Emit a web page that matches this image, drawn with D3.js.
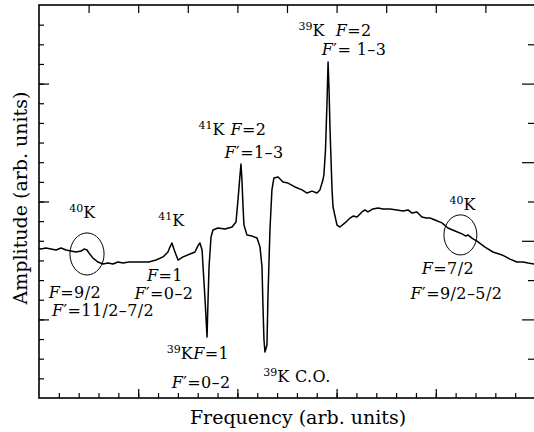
<!DOCTYPE html>
<html>
<head>
<meta charset="utf-8">
<script src="https://cdn.jsdelivr.net/npm/d3@7"></script>
<style>
  body { margin: 0; background: #fff; }
  svg { display: block; }
  text { fill: #000; white-space: pre; }
</style>
</head>
<body>
<svg id="chart" width="534" height="432"></svg>
<script>
// Saturated absorption spectrum of potassium -- frequency vs amplitude (arb. units)

var freq = [
  0, 0.10, 0.35, 0.60, 0.86, 1.11, 1.36, 1.61, 1.86, 2.12,
  2.27, 2.42, 2.52, 2.72, 2.97, 3.23, 3.48, 3.73, 3.98, 4.23,
  4.54, 4.89, 5.24, 5.54, 5.90, 6.25, 6.50, 6.60, 6.70, 6.80,
  6.91, 7.01, 7.26, 7.61, 7.86, 8.01, 8.11, 8.22, 8.27, 8.37,
  8.47, 8.52, 8.57, 8.67, 8.77, 9.02, 9.38, 9.73, 9.93, 10.03,
  10.11, 10.18, 10.23, 10.28, 10.33, 10.48, 10.74, 10.99, 11.14, 11.24,
  11.29, 11.34, 11.39, 11.49, 11.54, 11.64, 11.74, 11.84, 12.05, 12.30,
  12.55, 12.90, 13.26, 13.51, 13.76, 14.01, 14.16, 14.31, 14.36, 14.44,
  14.52, 14.57, 14.62, 14.67, 14.72, 14.77, 14.82, 15.02, 15.17, 15.42,
  15.68, 15.83, 16.03, 16.28, 16.43, 16.58, 16.83, 17.09, 17.34, 17.69,
  18.04, 18.35, 18.60, 18.80, 19.05, 19.30, 19.51, 19.71, 19.96, 20.31,
  20.61, 20.97, 21.32, 21.52, 21.62, 21.82, 22.13, 22.48, 22.88, 23.34,
  23.74, 24.09, 24.40, 24.65, 24.95
];

var amplitude = [
  7.63, 7.58, 7.63, 7.58, 7.53, 7.63, 7.53, 7.48, 7.43, 7.48,
  7.58, 7.53, 7.38, 7.12, 6.92, 6.82, 6.87, 6.82, 6.92, 6.87,
  6.92, 6.92, 6.92, 6.92, 7.02, 7.18, 7.43, 7.68, 7.89, 7.58,
  7.28, 7.02, 7.18, 7.33, 7.43, 7.74, 7.89, 7.53, 6.67, 4.99,
  3.10, 4.99, 6.67, 8.19, 8.55, 8.65, 8.60, 8.70, 8.96, 10.08,
  11.09, 11.91, 11.09, 9.82, 8.80, 8.30, 8.24, 8.14, 7.68, 6.67,
  4.63, 2.95, 2.34, 2.70, 5.14, 8.55, 10.59, 11.20, 11.25, 10.99,
  10.94, 10.74, 10.59, 10.43, 10.53, 10.43, 10.59, 11.09, 11.35, 12.62,
  15.17, 17.10, 15.67, 13.64, 12.11, 10.59, 9.72, 8.80, 8.70, 8.91,
  9.16, 9.26, 9.21, 9.47, 9.57, 9.47, 9.62, 9.67, 9.62, 9.62,
  9.57, 9.52, 9.57, 9.41, 9.47, 9.21, 9.16, 9.16, 9.06, 8.91,
  8.65, 8.50, 8.35, 8.24, 8.30, 8.14, 7.94, 7.68, 7.43, 7.28,
  7.07, 6.92, 6.92, 6.87, 6.82
];

// circled 40K features: centre and half-widths in data units
var rings = [
  { f: 2.42, a: 7.33, df: 0.86, da: 1.07 },
  { f: 21.24, a: 8.30, df: 0.83, da: 1.02 }
];

// annotations, centred on (f, a); parts: [text, style] with style "sup", "it" or ""
var notes = [
  { f: 2.19,  a: 9.16, parts: [["40", "sup"], ["K", ""]] },
  { f: 6.68,  a: 8.75, parts: [["41", "sup"], ["K", ""]] },
  { f: 6.35,  a: 5.95, parts: [["F", "it"], ["=1", ""]] },
  { f: 6.30,  a: 5.04, parts: [["F", "it"], ["\u2032=0\u20132", ""]] },
  { f: 1.81,  a: 5.09, parts: [["F", "it"], ["=9/2", ""]] },
  { f: 3.23,  a: 4.17, parts: [["F", "it"], ["\u2032=11/2\u20137/2", ""]] },
  { f: 8.01,  a: 1.98, parts: [["39", "sup"], ["K", ""], ["F", "it"], ["=1", ""]] },
  { f: 8.17,  a: 0.51, parts: [["F", "it"], ["\u2032=0\u20132", ""]] },
  { f: 13.00, a: 0.81, parts: [["39", "sup"], ["K C.O.", ""]] },
  { f: 9.75,  a: 13.38, parts: [["41", "sup"], ["K ", ""], ["F", "it"], ["=2", ""]] },
  { f: 10.84, a: 12.21, parts: [["F", "it"], ["\u2032=1\u20133", ""]] },
  { f: 14.92, a: 18.42, parts: [["39", "sup"], ["K  ", ""], ["F", "it"], ["=2", ""]] },
  { f: 15.88, a: 17.46, parts: [["F", "it"], ["\u2032= 1\u20133", ""]] },
  { f: 21.35, a: 9.57, parts: [["40", "sup"], ["K", ""]] },
  { f: 20.61, a: 6.31, parts: [["F", "it"], ["=7/2", ""]] },
  { f: 21.04, a: 5.04, parts: [["F", "it"], ["\u2032=9/2\u20135/2", ""]] }
];

var xMinor = d3.range(1, 25);
var xMajor = [5, 10, 15, 20];
var xTop = d3.range(2.5, 25, 2.5);
var yLeft = d3.range(1, 20);
var yLeftLong = [4, 10, 16];
var yRight = [2, 6, 10, 14, 18];
var yRightLong = [4, 8, 12, 16];

var serif = "DejaVu Serif";

///////////////////////////////////////////////////////////////////////////////
// Layout

var svg = d3.select("#chart");
var margin = { left: 39, top: 5, right: -1, bottom: 34 };
var W = 534, H = 432;

var x = d3.scaleLinear().domain([0, 25]).range([margin.left, W - margin.right]);
var y = d3.scaleLinear().domain([0, 20]).range([H - margin.bottom, margin.top]);

var noLabel = function () { return ""; };
var addAxis = function (axis, tx, ty) {
  var g = svg.append("g").attr("transform", "translate(" + tx + "," + ty + ")").call(axis);
  g.select(".domain").remove();
  g.selectAll(".tick line").attr("stroke", "#000").attr("stroke-width", 1.2);
  return g;
};

// inward ticks on all four sides
addAxis(d3.axisBottom(x).tickValues(xMinor).tickSize(-5).tickFormat(noLabel), 0, y(0));
addAxis(d3.axisBottom(x).tickValues(xMajor).tickSize(-9).tickFormat(noLabel), 0, y(0));
addAxis(d3.axisTop(x).tickValues(xTop).tickSize(-8).tickFormat(noLabel), 0, y(20));
addAxis(d3.axisLeft(y).tickValues(yLeft).tickSize(-5).tickFormat(noLabel), x(0), 0);
addAxis(d3.axisLeft(y).tickValues(yLeftLong).tickSize(-10).tickFormat(noLabel), x(0), 0);
addAxis(d3.axisRight(y).tickValues(yRight).tickSize(-7).tickFormat(noLabel), x(25), 0);
addAxis(d3.axisRight(y).tickValues(yRightLong).tickSize(-13).tickFormat(noLabel), x(25), 0);

// frame
svg.append("rect")
  .attr("x", x(0)).attr("y", y(20))
  .attr("width", x(25) - x(0)).attr("height", y(0) - y(20))
  .attr("fill", "none").attr("stroke", "#000").attr("stroke-width", 1.6);

///////////////////////////////////////////////////////////////////////////////
// Spectrum

var line = d3.line()
  .x(function (d, i) { return x(freq[i]); })
  .y(function (d) { return y(d); });

svg.append("path")
  .datum(amplitude)
  .attr("d", line)
  .attr("fill", "none")
  .attr("stroke", "#000")
  .attr("stroke-width", 1.5)
  .attr("stroke-linejoin", "round");

svg.selectAll("ellipse.ring")
  .data(rings)
  .enter().append("ellipse")
  .attr("class", "ring")
  .attr("cx", function (d) { return x(d.f); })
  .attr("cy", function (d) { return y(d.a); })
  .attr("rx", function (d) { return x(d.f + d.df) - x(d.f); })
  .attr("ry", function (d) { return y(d.a) - y(d.a + d.da); })
  .attr("fill", "none")
  .attr("stroke", "#000")
  .attr("stroke-width", 1);

///////////////////////////////////////////////////////////////////////////////
// Annotations

var noteText = svg.selectAll("text.note")
  .data(notes)
  .enter().append("text")
  .attr("class", "note")
  .attr("x", function (d) { return x(d.f); })
  .attr("y", function (d) { return y(d.a); })
  .attr("text-anchor", "middle")
  .attr("font-family", serif)
  .attr("font-size", 16)
  .attr("letter-spacing", 0.4);

noteText.each(function (d) {
  var t = d3.select(this);
  var raised = false;
  d.parts.forEach(function (p) {
    var s = t.append("tspan").text(p[0]);
    if (p[1] === "sup") {
      s.attr("font-size", 11).attr("dy", -6).attr("letter-spacing", 0);
      raised = true;
    } else {
      if (raised) { s.attr("dy", 6); raised = false; }
      if (p[1] === "it") s.attr("font-style", "italic");
    }
  });
});

// axis titles
svg.append("text")
  .attr("x", 298)
  .attr("y", 424)
  .attr("text-anchor", "middle")
  .attr("font-family", serif)
  .attr("font-size", 19)
  .text("Frequency (arb. units)");

svg.append("text")
  .attr("transform", "translate(27," + 198 + ") rotate(-90)")
  .attr("text-anchor", "middle")
  .attr("font-family", serif)
  .attr("font-size", 19)
  .text("Amplitude (arb. units)");
</script>
</body>
</html>
